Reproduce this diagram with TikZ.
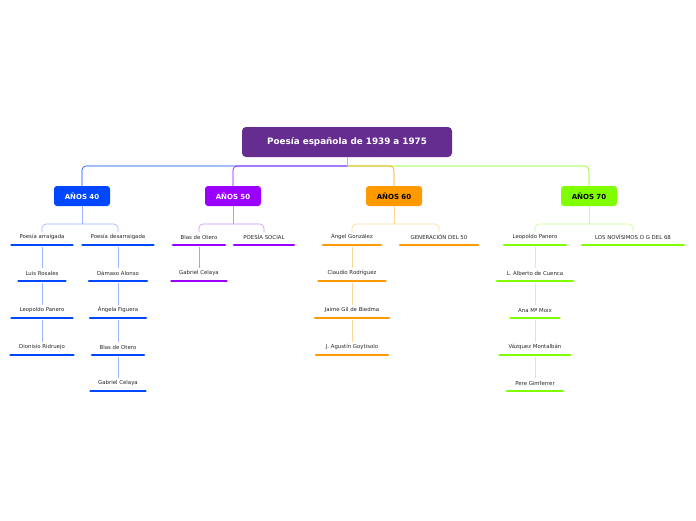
\documentclass[tikz,border=0pt]{standalone}
\usepackage{fontspec}
\setmainfont{DejaVu Sans}
\usetikzlibrary{calc}
\definecolor{cA}{HTML}{0047FF}
\definecolor{cB}{HTML}{9B00FF}
\definecolor{cC}{HTML}{FF9900}
\definecolor{cD}{HTML}{80FF00}
\definecolor{cRoot}{HTML}{662D91}
\tikzset{
  leaf/.style={font=\fontsize{5.4}{6}\selectfont, text=black!85, inner sep=0pt},
  ul/.style={line width=2.6pt, line cap=round},
  conn/.style={line width=0.6pt},
  cat/.style={rounded corners=3pt, font=\bfseries\fontsize{7}{8}\selectfont, minimum width=56pt, minimum height=20pt, inner sep=0pt},
}
\newcommand{\leafnode}[6]{% name, x, y, width, color, text
  \node[leaf] (#1) at (#2,#3) {#6};
  \draw[ul,#5] ($(#1)+(-#4/2+1.5,8)$) -- ($(#1)+(#4/2-1.5,8)$);
}
\newcommand{\vlink}[3]{\draw[conn,#3] ($(#1)+(0,9.5)$) -- ($(#2)+(0,-5)$);}
\begin{document}
\begin{tikzpicture}[x=1pt,y=-1pt]
\useasboundingbox (0,0) rectangle (696,520);
\node[fill=cRoot, text=white, rounded corners=4pt, font=\bfseries\fontsize{8.8}{10}\selectfont, minimum width=210pt, minimum height=30pt, inner sep=0pt] (root) at (347,142) {Poesía española de 1939 a 1975};
\node[cat, fill=cA, text=white] (c40) at (82,196) {AÑOS 40};
\node[cat, fill=cB, text=white] (c50) at (233,196) {AÑOS 50};
\node[cat, fill=cC, text=black] (c60) at (394,196) {AÑOS 60};
\node[cat, fill=cD, text=black] (c70) at (589,196) {AÑOS 70};
\draw[conn,cD] (root.south) -- (347,166);
\draw[conn,cD,rounded corners=4pt] (347,166) -- (589,166) -- (c70.north);
\draw[conn,cC,rounded corners=4pt] (347,166) -- (394,166) -- (c60.north);
\draw[conn,cA,rounded corners=4pt] (347,166) -- (82,166) -- (c40.north);
\draw[conn,cB,rounded corners=4pt] (347,166) -- (233,166) -- (c50.north);
% AÑOS 40
\leafnode{a1}{42}{237}{64}{cA}{Poesía arraigada}
\leafnode{a2}{118}{237}{74}{cA}{Poesía desarraigada}
\leafnode{a11}{42}{273}{50}{cA}{Luis Rosales}
\leafnode{a12}{42}{310}{64}{cA}{Leopoldo Panero}
\leafnode{a13}{42}{347}{66}{cA}{Dionisio Ridruejo}
\leafnode{a21}{118}{273}{61}{cA}{Dámaso Alonso}
\leafnode{a22}{118}{310}{59}{cA}{Ángela Figuera}
\leafnode{a23}{118}{347}{55}{cA}{Blas de Otero}
\leafnode{a24}{118}{383}{58}{cA}{Gabriel Celaya}
% AÑOS 50
\leafnode{b1}{199}{237}{55}{cB}{Blas de Otero}
\leafnode{b2}{264}{237}{63}{cB}{POESÍA SOCIAL}
\leafnode{b11}{199}{273}{58}{cB}{Gabriel Celaya}
% AÑOS 60
\leafnode{d1}{352}{237}{61}{cC}{Ángel González}
\leafnode{d2}{439}{237}{81}{cC}{GENERACIÓN DEL 50}
\leafnode{d11}{352}{273}{70}{cC}{Claudio Rodríguez}
\leafnode{d12}{352}{310}{77}{cC}{Jaime Gil de Biedma}
\leafnode{d13}{352}{347}{75}{cC}{J. Agustín Goytisolo}
% AÑOS 70
\leafnode{e1}{535}{237}{65}{cD}{Leopoldo Panero}
\leafnode{e2}{633}{237}{105}{cD}{LOS NOVÍSIMOS O G DEL 68}
\leafnode{e11}{535}{273}{79}{cD}{L. Alberto de Cuenca}
\leafnode{e12}{535}{310}{52}{cD}{Ana Mª Moix}
\leafnode{e13}{535}{347}{74}{cD}{Vázquez Montalbán}
\leafnode{e14}{535}{383}{59}{cD}{Pere Gimferrer}
% category branches
\foreach \c/\l/\r/\col in {c40/a1/a2/cA!40, c50/b1/b2/cB!45, c60/d1/d2/cC!40, c70/e1/e2/cD!45}{
  \draw[conn,\col] (\c.south) -- (\c.south |- 0,224);
  \draw[conn,\col,rounded corners=4pt] ($(\l)+(0,-5)$) -- (\l |- 0,224) -- (\r |- 0,224) -- ($(\r)+(0,-5)$);
}
% vertical links
\vlink{a1}{a11}{cA!40}\vlink{a11}{a12}{cA!40}\vlink{a12}{a13}{cA!40}
\vlink{a2}{a21}{cA!40}\vlink{a21}{a22}{cA!40}\vlink{a22}{a23}{cA!40}\vlink{a23}{a24}{cA!40}
\vlink{b1}{b11}{cB!45}
\vlink{d1}{d11}{cC!40}\vlink{d11}{d12}{cC!40}\vlink{d12}{d13}{cC!40}
\vlink{e1}{e11}{cD!45}\vlink{e11}{e12}{cD!45}\vlink{e12}{e13}{cD!45}\vlink{e13}{e14}{cD!45}
\end{tikzpicture}
\end{document}
